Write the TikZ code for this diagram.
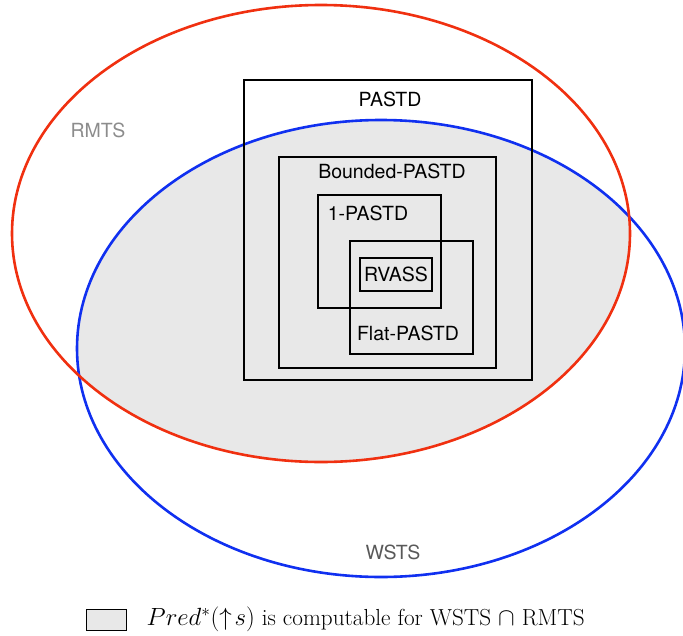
\documentclass[tikz,border=0pt]{standalone}
\usepackage{fontspec}
\setsansfont{TeX Gyre Heros}
\usetikzlibrary{positioning}
\definecolor{rmtsred}{RGB}{240,48,16}
\definecolor{wstsblue}{RGB}{16,48,240}
\definecolor{predgray}{RGB}{232,232,232}
\tikzset{
  box/.style={draw=black, line width=2.6pt, inner sep=0pt, fill=none},
  lbl/.style={font=\sffamily\fontsize{19.5}{21}\selectfont, inner sep=0pt},
}
\begin{document}
\begin{tikzpicture}[x=1pt,y=-1pt]
\useasboundingbox (0,0) rectangle (683,635);
% intersection of the two classes
\begin{scope}
\clip (381,348.5) ellipse [x radius=304, y radius=228.5];
\fill[predgray] (321,233.5) ellipse [x radius=309, y radius=228.5];
\end{scope}
\draw[wstsblue, line width=2.6pt] (381,348.5) ellipse [x radius=304, y radius=228.5];
\draw[rmtsred, line width=2.6pt] (321,233.5) ellipse [x radius=309, y radius=228.5];
\node [lbl, text=black!45] (rmts) at (98,130) {RMTS};
\node [lbl, text=black!65] (wsts) at (393,552) {WSTS};
% nested boxes
\node [box, minimum width=288pt, minimum height=300pt] (pastd) at (388,230) {};
\node [box, minimum width=217pt, minimum height=211pt] (bpastd) at (387.5,262.5) {};
\node [box, minimum width=123pt, minimum height=113pt] (onepastd) at (379.5,251.5) {};
\node [box, minimum width=123pt, minimum height=113pt] (flatpastd) at (411.5,297.5) {};
\node [box, minimum width=72pt, minimum height=33pt] (rvass) at (396,274.5) {};
\node [lbl] (pastdlbl) at (390,99) {PASTD};
\node [lbl] (bpastdlbl) at (392,171) {Bounded-PASTD};
\node [lbl] (onepastdlbl) at (368,213) {1-PASTD};
\node [lbl] (flatpastdlbl) at (408,333) {Flat-PASTD};
\node [lbl] (rvasslbl) at (396,274.5) {RVASS};
% legend
\node [draw=black, line width=1pt, fill=predgray, minimum width=40pt, minimum height=21pt, inner sep=0pt] (legbox) at (106,619.5) {};
\node [right=20pt of legbox, inner sep=0pt, font=\fontsize{23.2}{27}\selectfont] (legtext) {$Pred^*(\uparrow\! s)$ is computable for WSTS $\cap$ RMTS};
\end{tikzpicture}
\end{document}
